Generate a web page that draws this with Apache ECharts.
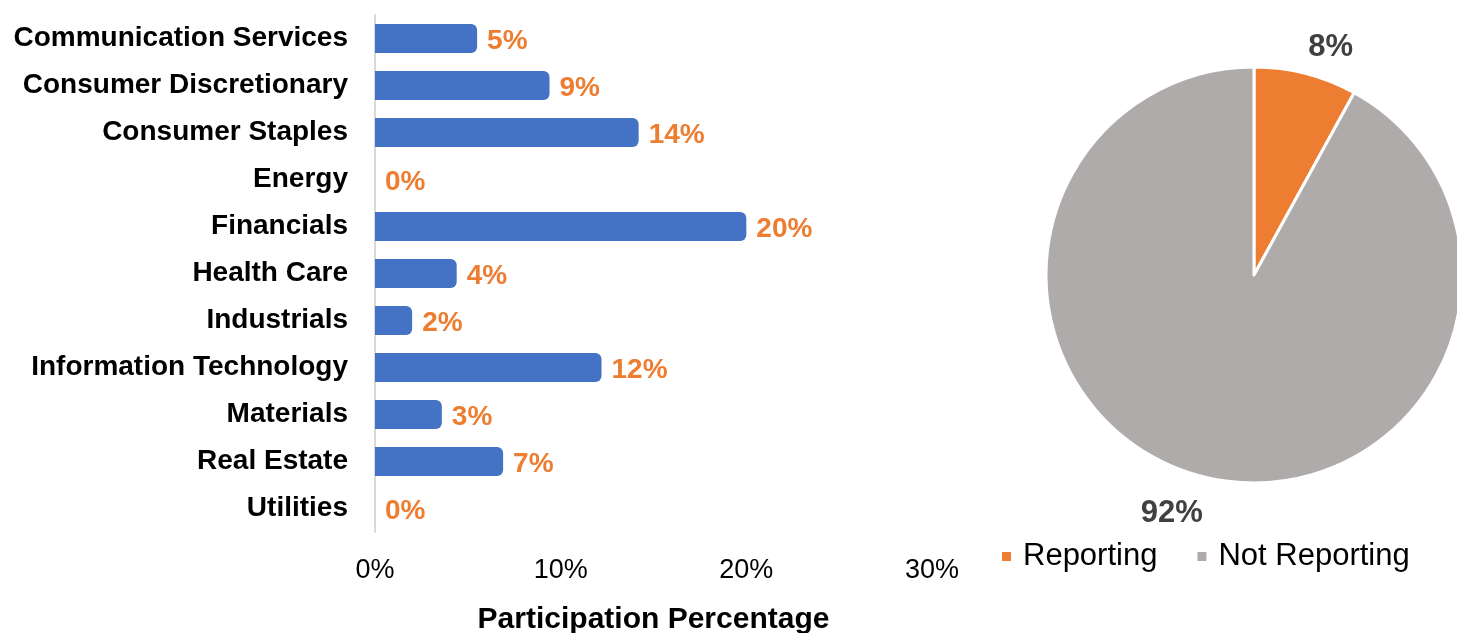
<!DOCTYPE html>
<html>
<head>
<meta charset="utf-8">
<script src="https://cdn.jsdelivr.net/npm/echarts@6/dist/echarts.min.js"></script>
<style>
html,body{margin:0;padding:0;background:#fff;}
#chart{width:1457px;height:633px;}
</style>
</head>
<body>
<div id="chart"></div>
<script>
const categories = ["Communication Services","Consumer Discretionary","Consumer Staples","Energy","Financials","Health Care","Industrials","Information Technology","Materials","Real Estate","Utilities"];
const participation = [5.5, 9.4, 14.2, 0, 20.0, 4.4, 2.0, 12.2, 3.6, 6.9, 0];
const participationLabels = ["5%","9%","14%","0%","20%","4%","2%","12%","3%","7%","0%"];
const xTicks = [0, 10, 20, 30];
const pieNames = ["Reporting","Not Reporting"];
const pieValues = [8, 92];

const FONT = "Liberation Sans";
const chart = echarts.init(document.getElementById('chart'), null, {renderer:'canvas'});
chart.setOption({
  animation:false,
  backgroundColor:'#ffffff',
  grid:{left:375, top:15, width:557, height:517, containLabel:false, outerBoundsMode:'none'},
  xAxis:{
    type:'value', min:xTicks[0], max:xTicks[xTicks.length-1], interval:10,
    axisLine:{show:false}, axisTick:{show:false}, splitLine:{show:false},
    axisLabel:{formatter:'{value}%', color:'#000', fontFamily:FONT, fontSize:27, margin:25},
    name:'Participation Percentage', nameLocation:'middle', nameGap:73,
    nameTextStyle:{color:'#000', fontFamily:FONT, fontWeight:'bold', fontSize:30}
  },
  yAxis:{
    type:'category', data:categories, inverse:true,
    axisLine:{show:true, lineStyle:{color:'#D9D9D9', width:2}}, axisTick:{show:false},
    axisLabel:{color:'#000', fontFamily:FONT, fontWeight:'bold', fontSize:28, margin:27, padding:[4,0,0,0]}
  },
  legend:{
    data:pieNames, left:995, top:536, itemWidth:11, itemHeight:11, itemGap:38,
    icon:'rect',
    textStyle:{color:'#000', fontFamily:FONT, fontSize:31, padding:[0,0,0,6]}
  },
  series:[
    {
      type:'bar', data:participation, barWidth:29,
      itemStyle:{color:'#4472C4', borderRadius:[0,6,6,0]},
      label:{show:true, position:'right', distance:10, offset:[0,3], color:'#ED7D31', fontFamily:FONT, fontWeight:'bold', fontSize:28,
        formatter:(p)=>participationLabels[p.dataIndex]}
    },
    {
      type:'pie', center:[1254,275], radius:208, startAngle:90, clockwise:true,
      data:pieNames.map((n,i)=>({name:n, value:pieValues[i]})),
      color:['#ED7D31','#AFABAB'],
      itemStyle:{borderColor:'#fff', borderWidth:3},
      label:{show:true, position:'outside', formatter:'{c}%', color:'#404040', fontFamily:FONT, fontWeight:'bold', fontSize:31},
      labelLine:{show:false, length:30, length2:0},
      emphasis:{disabled:true}
    }
  ]
});
chart.setOption({
  series:[{}, {labelLayout:(p)=> p.dataIndex === 0 ? {dx:-10, dy:3} : {dx:13, dy:8}}]
});
</script>
</body>
</html>
